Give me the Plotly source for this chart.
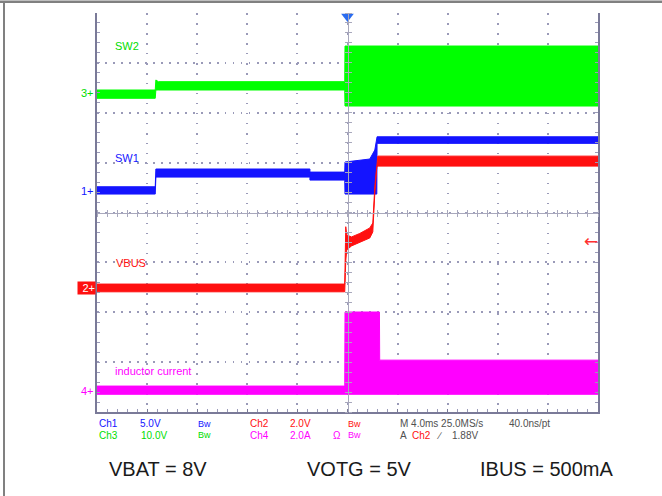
import plotly.graph_objects as go

# ---- acquisition settings -------------------------------------------------
T_DIV_MS = 4.0            # horizontal scale, ms/div
N_XDIV, N_YDIV = 10, 8
TRIG_POS_MS = 0.0
TRIG_LEVEL_V = 1.88       # trigger on Ch2

# volts (amps) per division and ground-marker position in divisions
CH1_SCALE, CH1_OFFSET = 5.0, 0.44     # SW1
CH2_SCALE, CH2_OFFSET = 2.0, -1.52    # VBUS
CH3_SCALE, CH3_OFFSET = 10.0, 2.39    # SW2
CH4_SCALE, CH4_OFFSET = 2.0, -3.58    # inductor current

# ---- trace envelopes (time in ms, upper / lower edge of the displayed band) --
sw1_t  = [-20, -15.35, -15.3, -3.0, -3.0, -0.22, -0.2, 1.78, 2.18, 2.34, 2.36, 20]
sw1_hi = [0.38, 0.38, 2.16, 2.16, 1.85, 1.85, 2.86, 3.16, 4.06, 5.39, 5.39, 5.39]
sw1_lo = [-0.35, -0.35, 1.35, 1.35, 1.05, 1.05, -0.35, -0.35, -0.35, -0.35, 4.73, 4.73]

vbus_t  = [-20, -0.22, -0.14, -0.06, 0.32, 0.98, 1.78, 2.02, 2.18, 2.34, 2.42, 20]
vbus_hi = [0.17, 0.17, 2.47, 2.14, 2.06, 2.20, 2.42, 2.62, 4.07, 5.15, 5.30, 5.30]
vbus_lo = [-0.14, -0.14, 1.10, 1.54, 1.70, 1.85, 2.02, 2.26, 3.80, 4.87, 4.90, 4.90]

sw2_t  = [-20, -15.35, -15.3, -15.1, -0.22, -0.2, 20]
sw2_hi = [0.66, 0.66, 2.67, 2.33, 2.33, 9.48, 9.48]
sw2_lo = [-1.00, -1.00, 0.66, 0.66, 0.66, -2.55, -2.55]

il_t  = [-20, -0.22, -0.2, 2.55, 2.57, 20]
il_hi = [0.20, 0.20, 3.17, 3.17, 1.24, 1.24]
il_lo = [-0.13, -0.13, -0.13, -0.13, -0.13, -0.13]

# ---- colours ---------------------------------------------------------------
BLUE, RED, GREEN, MAGENTA = "#1414ff", "#ff1010", "#00ff00", "#ff00ff"
GREEN_TXT = "#00dd00"
FRAME = "#7a7a98"
GRID = "#9a9ab8"
CROSS = "#a8a8bc"
FONT = "Liberation Sans, Arial, sans-serif"

W, H = 662, 496
L, R, T, B = 97, 64, 13, 84
PW, PH = W - L - R, H - T - B


def px(x):
    return (x - L) / PW


def py(y):
    return (H - B - y) / PH


def ch_range(scale, offset):
    return [(-N_YDIV / 2 - offset) * scale, (N_YDIV / 2 - offset) * scale]


def band(t, hi, lo, color, axis):
    return go.Scatter(
        x=t + t[::-1], y=hi + lo[::-1], yaxis=axis,
        mode="lines", fill="toself", fillcolor=color,
        line=dict(color=color, width=1), hoverinfo="skip", showlegend=False,
    )


half = N_XDIV / 2 * T_DIV_MS
fig = go.Figure()

# crosshair helper traces so the free axes get drawn
for xa, ya in [("x2", "y"), ("x3", "y"), ("x", "y6"), ("x", "y7")]:
    fig.add_trace(go.Scatter(x=[None], y=[None], xaxis=xa, yaxis=ya,
                             showlegend=False, hoverinfo="skip"))

fig.add_trace(band(sw2_t, sw2_hi, sw2_lo, GREEN, "y4"))
fig.add_trace(band(sw1_t, sw1_hi, sw1_lo, BLUE, "y2"))
fig.add_trace(band(vbus_t, vbus_hi, vbus_lo, RED, "y3"))
fig.add_trace(band(il_t, il_hi, il_lo, MAGENTA, "y5"))

# trigger position marker
fig.add_trace(go.Scatter(
    x=[TRIG_POS_MS], y=[3.93], mode="markers", cliponaxis=False,
    marker=dict(symbol="triangle-down", size=11, color="#2a6cf0"),
    showlegend=False, hoverinfo="skip",
))

hidden = dict(overlaying="y", visible=False, showgrid=False, zeroline=False)
cross_x = dict(overlaying="x", anchor="free", position=0.5, range=[-half, half],
               showline=True, linecolor=CROSS, linewidth=1, ticks="outside",
               ticklen=3, tickcolor=CROSS, tick0=-half, dtick=T_DIV_MS / 5,
               showticklabels=False, showgrid=False, zeroline=False)
cross_y = dict(overlaying="y", anchor="free", position=0.5,
               range=[-N_YDIV / 2, N_YDIV / 2], showline=True, linecolor=CROSS,
               linewidth=1, ticks="outside", ticklen=3, tickcolor=CROSS,
               tick0=-N_YDIV / 2, dtick=0.2, showticklabels=False,
               showgrid=False, zeroline=False)

fig.update_layout(
    width=W, height=H, margin=dict(l=L, r=R, t=T, b=B),
    paper_bgcolor="white", plot_bgcolor="white",
    font=dict(family=FONT, size=10),
    xaxis=dict(range=[-half, half], tick0=-half, dtick=T_DIV_MS,
               showgrid=True, gridcolor=GRID, gridwidth=1.5,
               griddash="1.5px,8.5px", showticklabels=False,
               ticks="inside", ticklen=3, tickcolor=FRAME,
               minor=dict(dtick=T_DIV_MS / 5, ticks="inside", ticklen=3,
                          tickcolor=GRID, showgrid=False),
               showline=True, linecolor=FRAME, linewidth=1.5, mirror=False,
               zeroline=False),
    yaxis=dict(range=[-N_YDIV / 2, N_YDIV / 2], tick0=-N_YDIV / 2, dtick=1,
               showgrid=True, gridcolor=GRID, gridwidth=1.5,
               griddash="1.5px,6.5px", showticklabels=False,
               ticks="inside", ticklen=3, tickcolor=GRID,
               minor=dict(dtick=0.2, ticks="inside", ticklen=3,
                          tickcolor=GRID, showgrid=False),
               showline=True, linecolor=FRAME, linewidth=1.5,
               mirror="allticks", zeroline=False),
    xaxis2=dict(side="bottom", **cross_x),
    xaxis3=dict(side="top", **cross_x),
    yaxis6=dict(side="left", **cross_y),
    yaxis7=dict(side="right", **cross_y),
    yaxis2=dict(range=ch_range(CH1_SCALE, CH1_OFFSET), **hidden),
    yaxis3=dict(range=ch_range(CH2_SCALE, CH2_OFFSET), **hidden),
    yaxis4=dict(range=ch_range(CH3_SCALE, CH3_OFFSET), **hidden),
    yaxis5=dict(range=ch_range(CH4_SCALE, CH4_OFFSET), **hidden),
)

ann = []


def text(x, y, s, color, size=10, xanchor="left", **kw):
    ann.append(dict(x=x, y=y, xref="paper", yref="paper", text=s,
                    showarrow=False, xanchor=xanchor, yanchor="middle",
                    font=dict(color=color, size=size, family=FONT), **kw))


# channel labels
text(px(113), py(46), "SW2", GREEN_TXT, 11)
text(px(113), py(158), "SW1", BLUE, 11)
text(px(114), py(263), "VBUS", RED, 11)
text(px(113), py(371), "inductor current", MAGENTA, 11)

# ground markers on the left edge
for axis, label, color, box in [("y2", "1+", BLUE, None), ("y4", "3+", GREEN_TXT, None),
                                ("y5", "4+", MAGENTA, None), ("y3", "2+", "white", RED)]:
    a = dict(x=0, y=0, xref="paper", yref=axis, text=label, showarrow=False,
             xanchor="right", yanchor="middle", xshift=-1,
             font=dict(color=color, size=11, family=FONT))
    if box:
        a.update(bgcolor=box, borderpad=0, width=17, align="right")
    ann.append(a)

# trigger level arrow on the right edge
ann.append(dict(x=px(591), y=TRIG_LEVEL_V, xref="paper", yref="y3", text="←",
                showarrow=False, xanchor="center", yanchor="middle",
                font=dict(color="#ff3030", size=17, family="DejaVu Sans")))

# readout below the graticule
r1, r2 = py(423.5), py(435)
text(px(97), r1, "Ch1", BLUE)
text(px(137.5), r1, "5.0V", BLUE)
text(px(196), r1, "Bw", BLUE, 9)
text(px(247.5), r1, "Ch2", RED)
text(px(287.5), r1, "2.0V", RED)
text(px(346), r1, "Bw", RED, 9)
text(px(398), r1, "M 4.0ms 25.0MS/s", "#505050")
text(px(507), r1, "40.0ns/pt", "#505050")

text(px(97), r2, "Ch3", GREEN_TXT)
text(px(139), r2, "10.0V", GREEN_TXT)
text(px(196), r2, "Bw", GREEN_TXT, 9)
text(px(247.5), r2, "Ch4", MAGENTA)
text(px(287.5), r2, "2.0A", MAGENTA)
text(px(330.5), r2, "Ω", MAGENTA)
text(px(346), r2, "Bw", MAGENTA, 9)
text(px(398), r2, "A", "#505050")
text(px(410), r2, "Ch2", RED)
text(px(434), r2, "∕", "#505050")
text(px(450), r2, "1.88V", "#505050")

# test conditions
text(px(107), py(469), "VBAT = 8V", "#1a1a1a", 20)
text(px(305), py(469), "VOTG = 5V", "#1a1a1a", 20)
text(px(478), py(469), "IBUS = 500mA", "#1a1a1a", 20)

fig.update_layout(annotations=ann)

# outer border of the figure panel
fig.update_layout(shapes=[
    dict(type="line", xref="paper", yref="paper", x0=px(0), x1=px(W),
         y0=py(1.8), y1=py(1.8), line=dict(color="#808080", width=2.5)),
    dict(type="line", xref="paper", yref="paper", x0=px(4), x1=px(4),
         y0=py(1.8), y1=py(H), line=dict(color="#808080", width=2)),
])

fig.write_html("out.html")
